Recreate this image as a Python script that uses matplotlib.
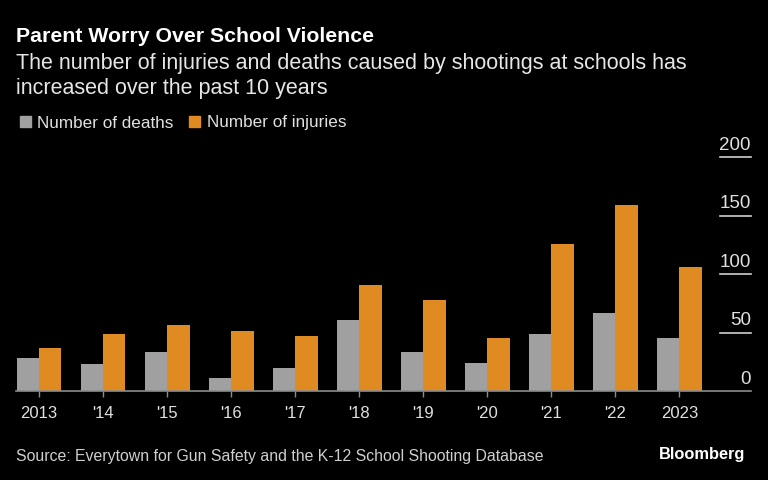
import numpy as np
import matplotlib
matplotlib.use("Agg")
import matplotlib.pyplot as plt

# values
years = ["2013", "'14", "'15", "'16", "'17", "'18", "'19", "'20", "'21", "'22", "2023"]
deaths = [28, 23, 33, 11, 20, 61, 33, 24, 49, 67, 45]
injuries = [37, 49, 56, 51, 47, 91, 78, 45, 126, 159, 106]
yticks = [0, 50, 100, 150, 200]

bg = "black"
grey = "#a0a0a0"
orange = "#e08b22"
axis_col = "#8c8c8c"

plt.rcParams["font.family"] = ["Liberation Sans", "DejaVu Sans"]

fig = plt.figure(figsize=(7.68, 4.81), dpi=100, facecolor=bg)
ax = fig.add_axes([16 / 768, 1 - 392 / 481, 735 / 768, 234 / 481], facecolor=bg)

x = np.arange(len(years))
w = 0.35
ax.bar(x - w / 2, deaths, w, color=grey)
ax.bar(x + w / 2, injuries, w, color=orange)

ax.set_xlim(-0.36, 11.12)
ax.set_ylim(0, 200)

for s in ["top", "right", "left"]:
    ax.spines[s].set_visible(False)
ax.spines["bottom"].set_color(axis_col)
ax.spines["bottom"].set_linewidth(1.2)

ax.set_xticks(x)
ax.set_xticklabels(years)
ax.tick_params(axis="x", colors=axis_col, length=4, width=1, labelcolor="#e0e0e0",
               labelsize=12, pad=6)
ax.set_yticks([])

# y-axis labels on the right with short rules underneath
for v in yticks:
    if v > 0:
        ax.plot([0.958, 1.0], [v, v], color="#cfcfcf", lw=1.2,
                transform=ax.get_yaxis_transform(), clip_on=False)
    ax.text(1.0, v + 3.5, str(v), transform=ax.get_yaxis_transform(),
            ha="right", va="bottom", color="#e0e0e0", fontsize=13.5)

fig.text(16 / 768, 1 - 37 / 481, "Parent Worry Over School Violence", color="white",
         fontsize=15.3, fontweight="bold", va="center")
fig.text(16 / 768, 1 - 64 / 481,
         "The number of injuries and deaths caused by shootings at schools has",
         color="#e6e6e6", fontsize=15.5, va="center")
fig.text(16 / 768, 1 - 89 / 481, "increased over the past 10 years",
         color="#e6e6e6", fontsize=15.5, va="center")

# legend
fig.patches.append(plt.Rectangle((20 / 768, 1 - 128 / 481), 11 / 768, 11 / 481,
                                 transform=fig.transFigure, color=grey))
fig.text(37 / 768, 1 - 123 / 481, "Number of deaths", color="#e0e0e0", fontsize=12.3, va="center")
fig.patches.append(plt.Rectangle((189 / 768, 1 - 128 / 481), 11 / 768, 11 / 481,
                                 transform=fig.transFigure, color=orange))
fig.text(207 / 768, 1 - 123 / 481, "Number of injuries", color="#e0e0e0", fontsize=12.3, va="center")

fig.text(16 / 768, 1 - 457 / 481,
         "Source: Everytown for Gun Safety and the K-12 School Shooting Database",
         color="#cfcfcf", fontsize=11.4, va="center")
fig.text(745 / 768, 1 - 455 / 481, "Bloomberg", color="white", fontsize=11.8,
         fontweight="bold", ha="right", va="center")

fig.savefig("out.png", dpi=100, facecolor=bg)
